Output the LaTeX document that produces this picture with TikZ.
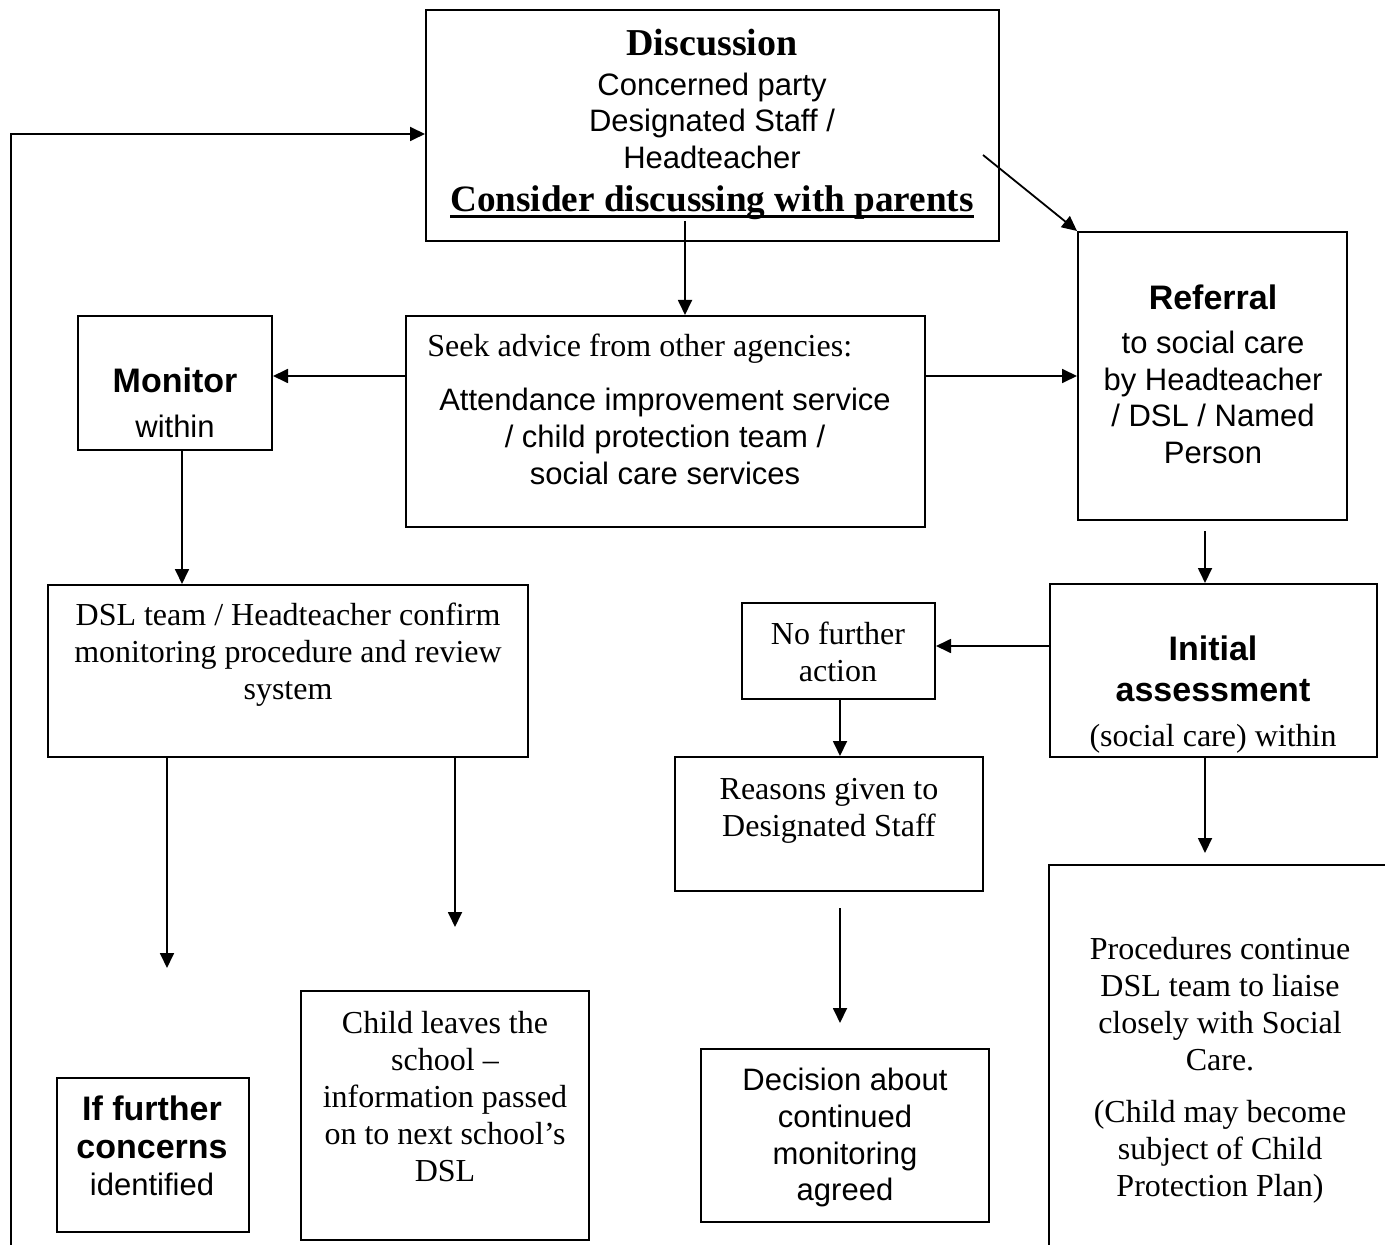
\documentclass[tikz,border=0pt]{standalone}
\usepackage{fontspec}
\setmainfont{Liberation Serif}
\setsansfont{Liberation Sans}
\usetikzlibrary{arrows.meta}
\newcommand{\thickul}[1]{\setbox0=\hbox{#1}\rlap{\rule[-3.5pt]{\wd0}{1.4pt}}\box0}
\newcommand{\sanshd}[1]{{\sffamily\bfseries\fontsize{17}{20}\selectfont #1}}
\newcommand{\romhd}[1]{{\rmfamily\bfseries\fontsize{19}{22}\selectfont #1}}

\begin{document}
\begin{tikzpicture}[x=0.5pt, y=-0.5pt,
    box/.style={draw, line width=1pt, inner sep=0pt},
    romtext/.style={align=center, inner sep=0pt, font=\rmfamily\fontsize{16}{18.5}\selectfont},
    sanstext/.style={align=center, inner sep=0pt, font=\sffamily\fontsize{15.5}{18.3}\selectfont},
    arr/.style={line width=0.9pt, -{Triangle[length=7.5pt, width=7pt]}}]
          \clip (0,0) rectangle (1385,1245);
          \fill[white] (0,0) rectangle (1385,1245);

          \node[box, minimum width=286.5pt, minimum height=115.5pt] (disc) at (712.5,125.5) {};
          \node[box, minimum width=259.5pt, minimum height=105.5pt] (seek) at (665.5,421.5) {};
          \node[box, minimum width=97pt, minimum height=67pt] (mon) at (175,383) {};
          \node[box, minimum width=134.5pt, minimum height=144pt] (refl) at (1212.5,376) {};
          \node[box, minimum width=240pt, minimum height=86pt] (dslt) at (288,671) {};
          \node[box, minimum width=96.5pt, minimum height=48pt] (nfa) at (838.5,651) {};
          \node[box, minimum width=163.5pt, minimum height=86.5pt] (init) at (1213.5,670.5) {};
          \node[box, minimum width=154pt, minimum height=67pt] (reas) at (829,824) {};
          \node[box, minimum width=178pt, minimum height=200pt] (proc) at (1227,1065) {};
          \node[box, minimum width=96pt, minimum height=77pt] (ifc) at (153,1155) {};
          \node[box, minimum width=144pt, minimum height=124.5pt] (chl) at (445,1115.5) {};
          \node[box, minimum width=144pt, minimum height=86.5pt] (dec) at (845,1135.5) {};

          % texts in the boxes
          \node[sanstext, anchor=north] (disct) at (712,29) {\romhd{Discussion}\\[1.5pt]
            Concerned party\\ Designated Staff /\\ Headteacher\\[3pt]
            {\rmfamily\bfseries\fontsize{18.6}{22}\selectfont\thickul{Consider discussing with parents}}};
          \node[romtext, anchor=west] (seekh) at (427,349) {Seek advice from other agencies:};
          \node[sanstext, anchor=north] (seekt) at (665,388) {Attendance improvement service\\
            / child protection team /\\ social care services};
          \node[sanstext, anchor=north] (mont) at (175,367) {\sanshd{Monitor}\\[4.5pt] within};
          \node[sanstext, anchor=north] (reflt) at (1213,284) {\sanshd{Referral}\\[4pt]
            to social care\\ by Headteacher\\ / DSL / Named\\ Person};
          \node[romtext, anchor=north] (dsltt) at (288,603) {DSL team / Headteacher confirm\\
            monitoring procedure and review\\ system};
          \node[romtext, anchor=north] (nfat) at (838,622) {No further\\ action};
          \node[sanstext, anchor=north] (initt) at (1213,635) {\sanshd{Initial}\\[2.5pt]
            \sanshd{assessment}\\[4pt] {\rmfamily\fontsize{16}{18.5}\selectfont (social care) within}};
          \node[romtext, anchor=north] (reast) at (829,778) {Reasons given to\\ Designated Staff};
          \node[romtext, anchor=north] (proct) at (1220,937) {Procedures continue\\
            DSL team to liaise\\ closely with Social\\ Care.\\[7.5pt]
            (Child may become\\ subject of Child\\ Protection Plan)};
          \node[sanstext, anchor=north] (ifct) at (152,1095) {\sanshd{If further}\\[1pt]
            \sanshd{concerns}\\ identified};
          \node[romtext, anchor=north] (chlt) at (445,1011) {Child leaves the\\ school --\\
            information passed\\ on to next school’s\\ DSL};
          \node[sanstext, anchor=north] (dect) at (845,1068) {Decision about\\ continued\\
            monitoring\\ agreed};

          % free ends
          \coordinate (lp) at (11,1250);
          \coordinate (dl) at (167,968);
          \coordinate (dr) at (455,927);
          \coordinate (ps) at (1205,853);
          \coordinate (rs) at (840,908);
          \coordinate (re) at (840,1023);

          \draw[arr] ([xshift=-13.75pt,yshift=10.5pt]disc.south) -- ([xshift=9.75pt]seek.north);
          \draw[arr] ([xshift=-8.5pt,yshift=-14.75pt]disc.east) -- (refl.north west);
          \draw[arr] ([yshift=22.75pt]seek.west) -- ([yshift=3.5pt]mon.east);
          \draw[arr] ([yshift=22.75pt]seek.east) -- (refl.west);
          \draw[arr] ([xshift=3.5pt]mon.south) -- ([xshift=-53pt]dslt.north);
          \draw[arr] ([xshift=-3.75pt,yshift=-5pt]refl.south) -- ([xshift=-4.25pt]init.north);
          \draw[arr] ([yshift=12.25pt]init.west) -- ([yshift=2.5pt]nfa.east);
          \draw[arr] ([xshift=0.75pt]nfa.south) -- ([xshift=5.5pt]reas.north);
          \draw[arr] ([xshift=-4.25pt]init.south) -- (ps);
          \draw[arr] ([xshift=-60.5pt]dslt.south) -- (dl);
          \draw[arr] ([xshift=83.5pt]dslt.south) -- (dr);
          \draw[arr] (rs) -- (re);
          \draw[arr] (lp) |- ([yshift=-4.25pt]disc.west);
\end{tikzpicture}
\end{document}
